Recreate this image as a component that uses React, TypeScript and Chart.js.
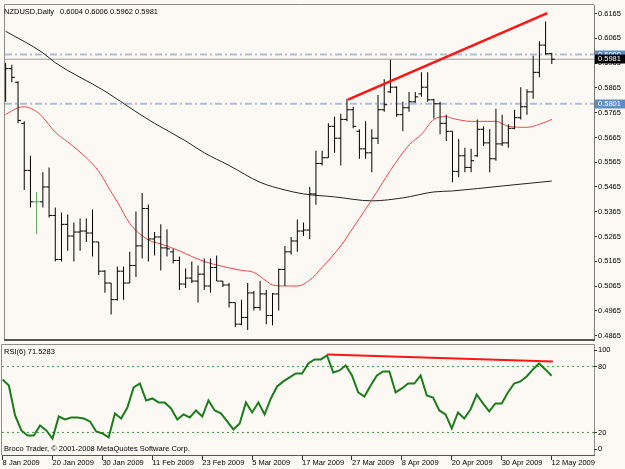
import React, { useEffect, useRef } from "react";
import { Chart, registerables } from "chart.js";

Chart.register(...registerables);

const FONT = "'Liberation Sans', Arial, sans-serif";
const FS = 7.5;

// ---------- text ----------
const symbolTitle = "NZDUSD,Daily";
const headerValues = "0.6004 0.6006 0.5962 0.5981";
const rsiTitle = "RSI(6) 71.5283";
const copyrightText = "Broco Trader, © 2001-2008 MetaQuotes Software Corp.";

// ---------- x axis (bar index) ----------
const dateLabels = [
  "8 Jan 2009", "20 Jan 2009", "30 Jan 2009", "11 Feb 2009", "23 Feb 2009", "5 Mar 2009",
  "17 Mar 2009", "27 Mar 2009", "8 Apr 2009", "20 Apr 2009", "30 Apr 2009", "12 May 2009",
];
const dateTickIndex = [0, 8, 16, 24, 32, 40, 48, 56, 64, 72, 80, 88];
const X_MIN = -0.1;
const X_MAX = 94.8;

// ---------- daily OHLC ----------
const opens = [
  0.5849, 0.5943, 0.5888, 0.5722, 0.5532, 0.5405, 0.5405, 0.5465, 0.5350, 0.5172,
  0.5314, 0.5267, 0.5283, 0.5287, 0.5279, 0.5243, 0.5125, 0.5077, 0.5010, 0.5125,
  0.5077, 0.5148, 0.5227, 0.5378, 0.5255, 0.5263, 0.5219, 0.5203, 0.5168, 0.5073,
  0.5097, 0.5085, 0.5113, 0.5065, 0.5140, 0.5085, 0.5069, 0.4998, 0.4911, 0.4938,
  0.5037, 0.4978, 0.5033, 0.4946, 0.5033, 0.5132, 0.5203, 0.5247, 0.5287, 0.5291,
  0.5437, 0.5560, 0.5583, 0.5710, 0.5662, 0.5738, 0.5777, 0.5690, 0.5619, 0.5603,
  0.5662, 0.5777, 0.5849, 0.5868, 0.5757, 0.5785, 0.5809, 0.5841, 0.5868, 0.5817,
  0.5801, 0.5722, 0.5690, 0.5528, 0.5591, 0.5544, 0.5591, 0.5698, 0.5643, 0.5579,
  0.5639, 0.5643, 0.5702, 0.5745, 0.5789, 0.5849, 0.5928, 0.6038, 0.6004,
];
const highs = [
  0.5967, 0.5959, 0.5892, 0.5730, 0.5591, 0.5445, 0.5524, 0.5544, 0.5382, 0.5362,
  0.5354, 0.5322, 0.5338, 0.5338, 0.5374, 0.5243, 0.5129, 0.5077, 0.5144, 0.5144,
  0.5203, 0.5366, 0.5441, 0.5394, 0.5283, 0.5314, 0.5294, 0.5215, 0.5184, 0.5136,
  0.5164, 0.5148, 0.5176, 0.5176, 0.5188, 0.5085, 0.5077, 0.4998, 0.5010, 0.5077,
  0.5045, 0.5085, 0.5049, 0.5037, 0.5136, 0.5227, 0.5263, 0.5334, 0.5322, 0.5465,
  0.5611, 0.5611, 0.5722, 0.5749, 0.5761, 0.5821, 0.5789, 0.5698, 0.5730, 0.5698,
  0.5837, 0.5900, 0.5979, 0.5872, 0.5809, 0.5849, 0.5849, 0.5928, 0.5928, 0.5821,
  0.5809, 0.5757, 0.5690, 0.5659, 0.5623, 0.5619, 0.5738, 0.5710, 0.5698, 0.5781,
  0.5757, 0.5718, 0.5777, 0.5868, 0.5860, 0.5995, 0.6054, 0.6133, 0.6006,
];
const lows = [
  0.5809, 0.5888, 0.5722, 0.5453, 0.5382, 0.5275, 0.5382, 0.5342, 0.5164, 0.5164,
  0.5207, 0.5164, 0.5207, 0.5243, 0.5184, 0.5109, 0.5038, 0.4950, 0.5006, 0.5010,
  0.5077, 0.5101, 0.5176, 0.5164, 0.5188, 0.5128, 0.5184, 0.5156, 0.5049, 0.5057,
  0.5077, 0.4998, 0.5049, 0.5038, 0.5085, 0.5061, 0.4978, 0.4899, 0.4907, 0.4887,
  0.4966, 0.4966, 0.4911, 0.4907, 0.4966, 0.5065, 0.5192, 0.5203, 0.5267, 0.5255,
  0.5393, 0.5552, 0.5583, 0.5603, 0.5552, 0.5730, 0.5702, 0.5579, 0.5579, 0.5524,
  0.5639, 0.5769, 0.5845, 0.5749, 0.5690, 0.5769, 0.5805, 0.5829, 0.5809, 0.5742,
  0.5678, 0.5651, 0.5484, 0.5504, 0.5524, 0.5524, 0.5587, 0.5631, 0.5524, 0.5571,
  0.5631, 0.5623, 0.5698, 0.5738, 0.5757, 0.5821, 0.5908, 0.5999, 0.5962,
];
const closes = [
  0.5943, 0.5908, 0.5734, 0.5532, 0.5405, 0.5405, 0.5465, 0.5350, 0.5172, 0.5314,
  0.5267, 0.5283, 0.5287, 0.5279, 0.5243, 0.5125, 0.5077, 0.5010, 0.5125, 0.5077,
  0.5148, 0.5227, 0.5378, 0.5255, 0.5263, 0.5219, 0.5215, 0.5168, 0.5073, 0.5097,
  0.5085, 0.5113, 0.5065, 0.5140, 0.5085, 0.5069, 0.4998, 0.4911, 0.4938, 0.5037,
  0.4978, 0.5033, 0.4946, 0.5033, 0.5132, 0.5203, 0.5247, 0.5287, 0.5291, 0.5437,
  0.5560, 0.5583, 0.5710, 0.5662, 0.5738, 0.5777, 0.5710, 0.5619, 0.5603, 0.5662,
  0.5777, 0.5797, 0.5868, 0.5757, 0.5785, 0.5809, 0.5829, 0.5868, 0.5817, 0.5801,
  0.5722, 0.5690, 0.5528, 0.5591, 0.5544, 0.5571, 0.5698, 0.5643, 0.5579, 0.5639,
  0.5643, 0.5702, 0.5745, 0.5789, 0.5849, 0.5928, 0.6038, 0.6003, 0.5981,
];

// ---------- moving averages ----------
const maRedIndex = [0, 2, 3, 5, 6, 8, 10, 13, 15, 17, 18, 20, 23, 25, 28, 30, 32, 35, 38, 40, 42, 43, 45, 47, 49, 51, 54, 55, 57, 59, 62, 65, 67, 69, 71, 72, 75, 79, 81, 84, 86, 88];
const maRedValue = [0.5757, 0.5785, 0.5789, 0.5769, 0.5746, 0.5686, 0.5647, 0.5583, 0.5528, 0.5445, 0.5405, 0.5318, 0.5251, 0.5235, 0.5207, 0.5184, 0.5164, 0.5144, 0.5128, 0.5120, 0.5085, 0.5069, 0.5065, 0.5065, 0.5089, 0.5140, 0.5227, 0.5263, 0.5338, 0.5413, 0.5532, 0.5635, 0.5678, 0.5738, 0.5749, 0.5742, 0.5730, 0.5730, 0.5710, 0.5706, 0.5718, 0.5738];
const maBlackIndex = [0, 6, 8, 16, 21, 24, 29, 32, 36, 41, 45, 48, 53, 59, 64, 69, 72, 80, 88];
const maBlackValue = [0.6094, 0.6007, 0.5967, 0.5852, 0.5769, 0.5722, 0.5651, 0.5603, 0.5552, 0.5484, 0.5453, 0.5437, 0.5425, 0.5409, 0.5421, 0.5445, 0.5449, 0.5469, 0.5489];

// ---------- drawn objects ----------
const trendIndex = [55.16, 87.27];
const trendValue = [0.5818, 0.6167];
const levelLines = [0.6, 0.5801];
const bidPrice = 0.5981;
const priceTicks = [0.4865, 0.4965, 0.5065, 0.5165, 0.5265, 0.5365, 0.5465, 0.5565, 0.5665, 0.5765, 0.5865, 0.5965, 0.6065, 0.6165];
const PRICE_MIN = 0.4851;
const PRICE_MAX = 0.62;

// ---------- RSI(6) ----------
const rsiValues = [
  68.2, 62.7, 35.5, 21.8, 17.3, 17.3, 26.4, 21.8, 14.5, 34.5,
  31.8, 33.6, 33.6, 32.7, 30.0, 20.9, 19.1, 15.5, 37.3, 32.7,
  42.7, 60.9, 64.5, 49.1, 50.9, 47.3, 47.3, 41.8, 31.8, 36.4,
  33.6, 40.0, 34.5, 49.1, 40.0, 37.3, 30.0, 22.7, 28.2, 47.3,
  38.2, 47.3, 36.4, 50.9, 61.8, 66.4, 70.0, 73.6, 73.6, 82.7,
  86.4, 86.4, 90.0, 74.5, 76.4, 80.9, 71.8, 56.4, 52.7, 62.7,
  71.8, 75.5, 75.5, 56.4, 60.0, 64.5, 64.5, 71.8, 53.6, 51.8,
  40.0, 36.4, 23.6, 38.2, 32.7, 40.9, 54.5, 46.4, 39.1, 46.4,
  46.4, 56.4, 64.5, 66.4, 70.9, 77.3, 82.7, 77.3, 71.5,
];
const rsiTrendIndex = [52.0, 88.2];
const rsiTrendValue = [90.9, 84.5];
const rsiLevels = [80, 20];
const rsiAxisLabels = [100, 80, 20, 0];

const BG = "#fcf9f5";
const BAR = "#000000";
const DOJI = "#4fa04f";

const font = (s = FS) => `${s}px ${FONT}`;

const mainDecor = {
  id: "mainDecor",
  afterDraw(chart: any) {
    const { ctx, chartArea } = chart;
    const { left, top, right, bottom } = chartArea;
    const y = chart.scales.y;
    ctx.save();
    // frame
    ctx.strokeStyle = "#8c8c8c";
    ctx.lineWidth = 1;
    ctx.beginPath();
    ctx.moveTo(left - 0.5, bottom);
    ctx.lineTo(left - 0.5, top - 0.5);
    ctx.lineTo(right, top - 0.5);
    ctx.stroke();
    ctx.strokeStyle = "#555555";
    ctx.lineWidth = 2;
    ctx.beginPath();
    ctx.moveTo(left - 1, bottom + 1);
    ctx.lineTo(right + 1, bottom + 1);
    ctx.stroke();
    // header
    ctx.fillStyle = "#000";
    ctx.font = font();
    ctx.textBaseline = "middle";
    ctx.textAlign = "left";
    ctx.fillText(symbolTitle, 4, top + 7);
    ctx.fillText(headerValues, 60, top + 7);
    // price boxes
    const box = (v: number, color: string) => {
      const py = y.getPixelForValue(v);
      ctx.fillStyle = color;
      ctx.fillRect(right + 1, Math.round(py) - 4.5, 31, 9);
      ctx.fillStyle = "#ffffff";
      ctx.fillText(v.toFixed(4), right + 4, py);
    };
    levelLines.forEach((v) => box(v, "#5b8ec4"));
    box(bidPrice, "#000000");
    ctx.restore();
  },
};

const rsiDecor = {
  id: "rsiDecor",
  afterDraw(chart: any) {
    const { ctx, chartArea } = chart;
    const { left, top, right, bottom } = chartArea;
    const y = chart.scales.y;
    ctx.save();
    ctx.strokeStyle = "#8c8c8c";
    ctx.lineWidth = 1;
    ctx.beginPath();
    ctx.moveTo(left - 0.5, bottom);
    ctx.lineTo(left - 0.5, top - 0.5);
    ctx.lineTo(right + 0.5, top - 0.5);
    ctx.lineTo(right + 0.5, bottom);
    ctx.stroke();
    ctx.font = font();
    ctx.fillStyle = "#000";
    ctx.textBaseline = "middle";
    ctx.textAlign = "left";
    rsiAxisLabels.forEach((v) => {
      const py = Math.min(Math.max(y.getPixelForValue(v), top + 5), bottom - 6);
      ctx.strokeStyle = "#333";
      ctx.beginPath();
      ctx.moveTo(right, Math.round(py) + 0.5);
      ctx.lineTo(right + 3, Math.round(py) + 0.5);
      ctx.stroke();
      ctx.fillText(String(v), right + 4, py);
    });
    ctx.fillText(rsiTitle, 4, top + 7);
    ctx.fillText(copyrightText, 4, bottom - 6);
    ctx.restore();
  },
};

export default function App() {
  const mainRef = useRef<HTMLCanvasElement | null>(null);
  const rsiRef = useRef<HTMLCanvasElement | null>(null);

  useEffect(() => {
    if (!mainRef.current || !rsiRef.current) return;
    const barColors = opens.map((o, i) => (o === closes[i] ? DOJI : BAR));
    const hline = (v: number) => [
      { x: X_MIN, y: v },
      { x: X_MAX, y: v },
    ];

    const main = new Chart(mainRef.current, {
      type: "bar",
      data: {
        datasets: [
          {
            type: "line",
            label: "trend",
            data: trendIndex.map((x, k) => ({ x, y: trendValue[k] })),
            borderColor: "#ff1414",
            borderWidth: 2.5,
            pointRadius: 0,
            order: 0,
          } as any,
          {
            type: "bar",
            label: "range",
            data: highs.map((h, i) => ({ x: i, y: [lows[i], h] })),
            backgroundColor: barColors,
            barThickness: 1,
            inflateAmount: 0,
            borderWidth: 0,
            order: 1,
          } as any,
          {
            type: "line",
            label: "open",
            data: opens.map((o, i) => ({ x: i - 0.24, y: o })),
            showLine: false,
            pointStyle: "line",
            pointRadius: 1.5,
            pointBorderWidth: 1,
            pointBorderColor: barColors,
            order: 1,
          } as any,
          {
            type: "line",
            label: "close",
            data: closes.map((c, i) => ({ x: i + 0.24, y: c })),
            showLine: false,
            pointStyle: "line",
            pointRadius: 1.5,
            pointBorderWidth: 1,
            pointBorderColor: barColors,
            order: 1,
          } as any,
          {
            type: "line",
            label: "MA fast",
            data: maRedIndex.map((x, k) => ({ x, y: maRedValue[k] })),
            borderColor: "#f04646",
            borderWidth: 1,
            pointRadius: 0,
            cubicInterpolationMode: "monotone",
            order: 2,
          } as any,
          {
            type: "line",
            label: "MA slow",
            data: maBlackIndex.map((x, k) => ({ x, y: maBlackValue[k] })),
            borderColor: "#222222",
            borderWidth: 1,
            pointRadius: 0,
            cubicInterpolationMode: "monotone",
            order: 2,
          } as any,
          ...levelLines.map(
            (v) =>
              ({
                type: "line",
                label: "level " + v,
                data: hline(v),
                borderColor: "#a9c0da",
                borderWidth: 2,
                borderDash: [7, 3, 2, 3],
                pointRadius: 0,
                order: 3,
              } as any)
          ),
          {
            type: "line",
            label: "bid",
            data: hline(bidPrice),
            borderColor: "#9a9a9a",
            borderWidth: 1,
            pointRadius: 0,
            order: 3,
          } as any,
        ],
      },
      options: {
        responsive: false,
        maintainAspectRatio: false,
        animation: false,
        events: [],
        layout: { padding: { left: 2, top: 1, right: 0, bottom: 2 } },
        plugins: { legend: { display: false }, tooltip: { enabled: false } },
        scales: {
          x: { type: "linear", min: X_MIN, max: X_MAX, display: false, offset: false },
          y: {
            type: "linear",
            position: "right",
            min: PRICE_MIN,
            max: PRICE_MAX,
            afterBuildTicks: (s: any) => {
              s.ticks = priceTicks.map((v) => ({ value: v }));
            },
            afterFit: (s: any) => {
              s.width = 31;
              s.paddingTop = 0;
              s.paddingBottom = 0;
            },
            ticks: {
              autoSkip: false,
              callback: (v: any) => Number(v).toFixed(4),
              color: "#000",
              padding: 1,
              font: { family: FONT, size: FS },
            },
            grid: { drawOnChartArea: false, drawTicks: true, tickLength: 3, color: "#333" },
            border: { display: true, color: "#7a7a7a" },
          },
        },
      } as any,
      plugins: [mainDecor],
    });

    const rsi = new Chart(rsiRef.current, {
      type: "line",
      data: {
        datasets: [
          {
            label: "RSI divergence",
            data: rsiTrendIndex.map((x, k) => ({ x, y: rsiTrendValue[k] })),
            borderColor: "#ff1414",
            borderWidth: 2,
            pointRadius: 0,
            order: 0,
          },
          {
            label: "RSI(6)",
            data: rsiValues.map((v, i) => ({ x: i, y: v })),
            borderColor: "#1c7c1c",
            borderWidth: 2,
            pointRadius: 0,
            order: 1,
          },
          ...rsiLevels.map((v) => ({
            label: "level " + v,
            data: hline(v),
            borderColor: "#3f9e3f",
            borderWidth: 1,
            borderDash: [2, 3],
            pointRadius: 0,
            order: 2,
          })),
        ],
      },
      options: {
        responsive: false,
        maintainAspectRatio: false,
        animation: false,
        events: [],
        layout: { padding: { left: 2, top: 1, right: 31, bottom: 0 } },
        plugins: { legend: { display: false }, tooltip: { enabled: false } },
        scales: {
          x: {
            type: "linear",
            min: X_MIN,
            max: X_MAX,
            position: "bottom",
            afterBuildTicks: (s: any) => {
              s.ticks = dateTickIndex.map((v) => ({ value: v }));
            },
            afterFit: (s: any) => {
              s.height = 14;
              s.paddingLeft = 0;
              s.paddingRight = 0;
            },
            ticks: {
              autoSkip: false,
              maxRotation: 0,
              minRotation: 0,
              align: "start",
              padding: -2,
              color: "#000",
              font: { family: FONT, size: FS },
              callback: (_v: any, i: number) => dateLabels[i],
            },
            grid: { drawOnChartArea: false, drawTicks: true, tickLength: 5, color: "#333" },
            border: { display: true, color: "#555" },
          },
          y: { type: "linear", min: -0.5, max: 99.5, display: false },
        },
      } as any,
      plugins: [rsiDecor],
    });

    return () => {
      main.destroy();
      rsi.destroy();
    };
  }, []);

  return (
    <div
      style={{
        position: "fixed",
        left: 0,
        top: 0,
        width: 625,
        height: 469,
        background: BG,
        overflow: "hidden",
      }}
    >
      <canvas ref={mainRef} width={625} height={344} style={{ position: "absolute", left: 0, top: 0 }} />
      <canvas ref={rsiRef} width={625} height={125} style={{ position: "absolute", left: 0, top: 344 }} />
    </div>
  );
}
